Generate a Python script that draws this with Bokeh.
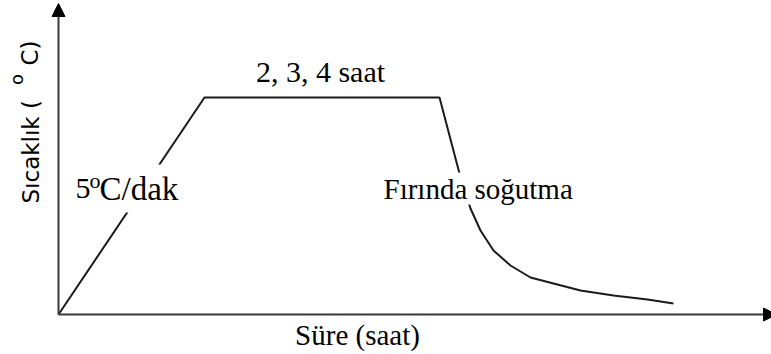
import math
from bokeh.plotting import figure
from bokeh.models import Range1d, Arrow, NormalHead, Label
from bokeh.embed import file_html
from bokeh.resources import INLINE

# Heat-treatment profile (schematic units: time along x, temperature along y)
time = [0, 146, 381, 401, 412, 422, 435, 452, 472, 495, 522, 555, 589, 615]
temperature = [0, 217, 217, 141, 106, 84, 64, 49, 37, 31, 24, 19, 15, 11]

# Axis extents (arrow tips)
x_axis_end = 718
y_axis_end = 311

SERIF = "Liberation Serif"
SANS = "DejaVu Sans"

p = figure(width=771, height=354, output_backend="svg", toolbar_location=None,
           x_range=Range1d(-58, 713), y_range=Range1d(-40, 314),
           min_border=0, outline_line_color=None, background_fill_color="white",
           border_fill_color="white")
p.axis.visible = False
p.grid.visible = False

# Axes with arrow heads
axis_color = "#3a3a3a"
p.add_layout(Arrow(end=NormalHead(size=13, fill_color="black", line_color="black"),
                   x_start=0, y_start=0, x_end=0, y_end=y_axis_end,
                   line_width=2, line_color=axis_color))
p.add_layout(Arrow(end=NormalHead(size=13, fill_color="black", line_color="black"),
                   x_start=0, y_start=0, x_end=x_axis_end, y_end=0,
                   line_width=2, line_color=axis_color))

# Temperature profile
p.line(time, temperature, line_width=2, line_color="#1a1a1a")


def label(x, y, text, size, font=SERIF, align="left", angle=0, bg=None, pad=0):
    lbl = Label(x=x, y=y, text=text, text_font=font, text_font_size=f"{size}px",
                text_color="black", text_align=align, text_baseline="alphabetic",
                angle=angle, padding=pad)
    if bg:
        lbl.background_fill_color = bg
    p.add_layout(lbl)


# Annotations (text boxes with a white fill mask the curve behind them)
label(262, 243, "2, 3, 4 saat", 30, align="center")
label(35, 126, "C/dak", 33, bg="white", pad=6)
label(17, 126, "5", 30)
label(31, 134, "o", 22)
label(325, 126, "Fırında soğutma", 29, bg="white")
label(299, -20, "Süre (saat)", 29, align="center")

# Vertical axis title
label(-28, 111, "Sıcaklık (", 23, font=SANS, angle=math.pi / 2)
label(-42, 235, "o", 18, font=SANS, align="center", angle=math.pi / 2)
label(-29, 274, "C)", 23, font=SANS, align="right", angle=math.pi / 2)

open("out.html", "w").write(file_html(p, INLINE))
